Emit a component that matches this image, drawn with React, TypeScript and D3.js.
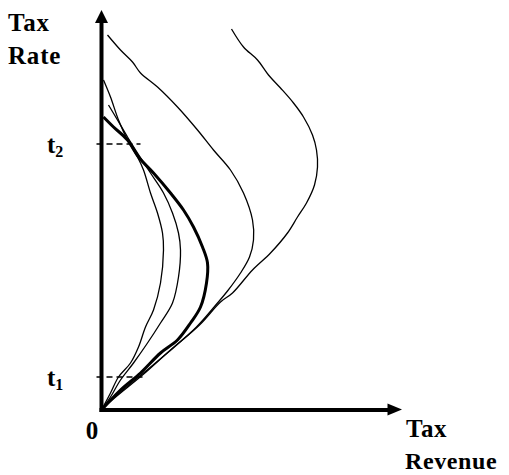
import * as d3 from "d3";

// Laffer-style curves: [tax revenue, tax rate]
const curveOuter: [number, number][] = [
  [130, 381], [142, 363], [156, 350], [167, 335], [179, 322], [192, 307], [202, 293],
  [211, 275], [215, 260], [216, 243], [213, 225], [205, 207], [196, 193], [186, 177],
  [169, 157], [151, 140], [131, 117], [119, 108], [98, 85], [69, 60], [41, 35], [13, 12], [0, 0],
];
const curveMiddle: [number, number][] = [
  [6, 375], [19, 360], [31, 348], [39, 337], [56, 323], [76, 303], [96, 280], [112, 260],
  [129, 240], [142, 217], [151, 190], [152, 170], [148, 153], [139, 137], [126, 119],
  [116, 107], [95, 83], [67, 58], [37, 33], [11, 11], [0, 0],
];
const curveInner: [number, number][] = [
  [2, 330], [9, 313], [17, 290], [26, 270], [36, 253], [42, 240], [49, 217], [56, 197],
  [61, 177], [62, 160], [59, 127], [52, 100], [44, 83], [37, 63], [29, 47], [17, 33], [9, 17], [0, 0],
];
const curveSecond: [number, number][] = [
  [7, 305], [16, 290], [26, 273], [36, 257], [49, 237], [62, 217], [71, 197], [77, 177],
  [79, 160], [77, 133], [71, 107], [59, 87], [46, 67], [32, 47], [19, 30], [9, 13], [0, 0],
];
const curveBold: [number, number][] = [
  [2, 293], [12, 283], [26, 270], [37, 253], [52, 237], [69, 217], [82, 200], [92, 183],
  [101, 163], [106, 147], [105, 127], [99, 103], [89, 87], [76, 70], [59, 57], [39, 37], [19, 20], [0, 0],
];

const thinCurves = [curveOuter, curveMiddle, curveInner, curveSecond];

// marked rates and the revenue the dashed guide reaches
const rateMarks = [
  { label: "t", sub: "2", rate: 266, reach: 39 },
  { label: "t", sub: "1", rate: 33, reach: 42 },
];

const W = 509;
const H = 475;
const font = "'Liberation Serif', 'Times New Roman', serif";

export default function App() {
  const x = d3.scaleLinear([0, 300], [101.5, 401.5]);
  const y = d3.scaleLinear([0, 400], [410, 10]);
  const line = d3
    .line<[number, number]>()
    .x((d) => x(d[0]))
    .y((d) => y(d[1]))
    .curve(d3.curveCatmullRom);

  const x0 = x(0);
  const y0 = y(0);

  return (
    <svg width={W} height={H} style={{ position: "absolute", left: 0, top: 0, background: "#fff" }}>
      {/* axes */}
      <line x1={x0} y1={y0 + 2} x2={x0} y2={y(388)} stroke="#000" strokeWidth={4} />
      <path d={`M${x0},${y(400)} L${x0 - 6.5},${y(387)} L${x0 + 6.5},${y(387)} Z`} fill="#000" />
      <line x1={x0 - 2} y1={y0} x2={x(288)} y2={y0} stroke="#000" strokeWidth={4} />
      <path d={`M${x(300.5)},${y0 - 0.5} L${x(286)},${y0 - 6.5} L${x(286)},${y0 + 5.5} Z`} fill="#000" />

      {/* dashed guides */}
      {rateMarks.map((m, i) => (
        <line key={i} x1={x(-5)} x2={x(m.reach)} y1={y(m.rate)} y2={y(m.rate)}
          stroke="#000" strokeWidth={1.7} strokeDasharray="6,4" />
      ))}

      {/* curves */}
      <g fill="none" stroke="#000" strokeLinejoin="round">
        {thinCurves.map((c, i) => (
          <path key={i} d={line(c) ?? ""} strokeWidth={1.3} />
        ))}
        <path d={line(curveBold) ?? ""} strokeWidth={3} />
      </g>

      {/* labels */}
      <g fontFamily={font} fontWeight="bold" fill="#000">
        <text x={8} y={31} fontSize={25} letterSpacing={0.8}>Tax</text>
        <text x={8} y={64} fontSize={25} letterSpacing={0.8}>Rate</text>
        <text x={406} y={437} fontSize={25} letterSpacing={0.6}>Tax</text>
        <text x={405} y={469} fontSize={24} letterSpacing={0.6}>Revenue</text>
        <text x={92} y={439} fontSize={25} textAnchor="middle">0</text>
        {rateMarks.map((m, i) => (
          <text key={i} x={47} y={y(m.rate) + 9} fontSize={25}>
            {m.label}
            <tspan fontSize={16} dy={4}>{m.sub}</tspan>
          </text>
        ))}
      </g>
    </svg>
  );
}
